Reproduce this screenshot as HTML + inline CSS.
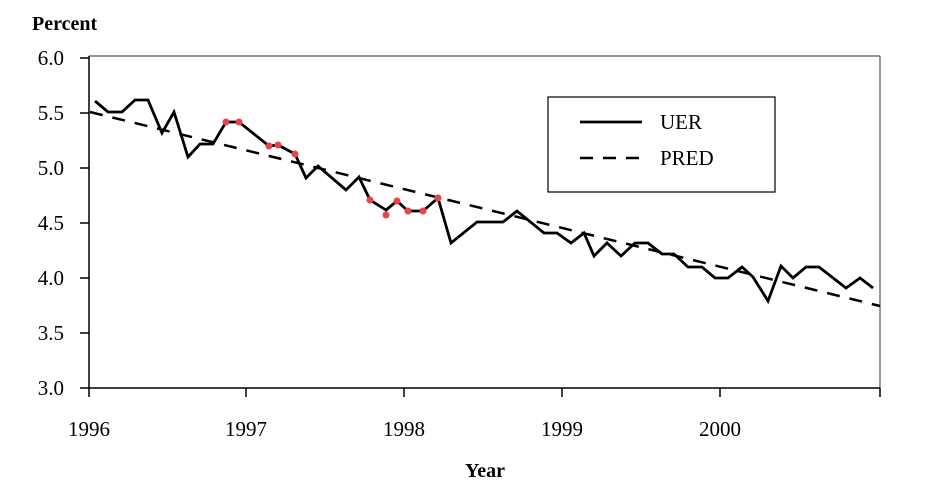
<!DOCTYPE html>
<html><head><meta charset="utf-8"><style>body{margin:0;background:#fff}svg{display:block}</style></head><body>
<svg width="942" height="489" viewBox="0 0 942 489" xmlns="http://www.w3.org/2000/svg" font-family="Liberation Serif, serif">
<text x="32" y="30" font-size="20" font-weight="bold">Percent</text>
<g font-size="21" text-anchor="end">
<text x="64" y="65">6.0</text><text x="64" y="120">5.5</text><text x="64" y="175">5.0</text><text x="64" y="230">4.5</text><text x="64" y="285">4.0</text><text x="64" y="340">3.5</text><text x="64" y="395">3.0</text>
</g>
<g stroke="#555" stroke-width="1.2">
<line x1="89" y1="56" x2="880" y2="56"/><line x1="880" y1="56" x2="880" y2="388"/>
</g>
<g stroke="#000" stroke-width="1.5">
<line x1="89" y1="56" x2="89" y2="388"/><line x1="89" y1="388" x2="880" y2="388"/>
<line x1="80" y1="58" x2="89" y2="58"/><line x1="80" y1="113" x2="89" y2="113"/><line x1="80" y1="168" x2="89" y2="168"/><line x1="80" y1="223" x2="89" y2="223"/><line x1="80" y1="278" x2="89" y2="278"/><line x1="80" y1="333" x2="89" y2="333"/><line x1="80" y1="388" x2="89" y2="388"/>
<line x1="89" y1="388" x2="89" y2="397"/><line x1="246" y1="388" x2="246" y2="397"/><line x1="404" y1="388" x2="404" y2="397"/><line x1="562" y1="388" x2="562" y2="397"/><line x1="720" y1="388" x2="720" y2="397"/><line x1="880" y1="388" x2="880" y2="397"/>
</g>
<g font-size="21" text-anchor="middle">
<text x="89" y="436">1996</text><text x="246" y="436">1997</text><text x="404" y="436">1998</text><text x="562" y="436">1999</text><text x="720" y="436">2000</text>
</g>
<text x="485" y="477" font-size="20" font-weight="bold" text-anchor="middle">Year</text>
<line x1="90" y1="112" x2="880" y2="306" stroke="#000" stroke-width="2.5" stroke-dasharray="13,10"/>
<polyline fill="none" stroke="#000" stroke-width="2.8" stroke-linejoin="miter" points="95,101 108,112 122,112 135,100 148,100 162,133 174,112 188,157 200,144 213,144 226,122 239,122 269,146 278,145 295,154 306,178 318,166 346,190 359,177 370,200 386,210 397,201 408,211 423,211 438,198 451,243 477,222 503,222 517,211 544,233 557,233 571,243 584,233 594,256 607,243 621,256 635,243 648,243 662,254 674,254 688,267 702,267 715,278 728,278 742,267 753,277 768,301 781,266 793,278 806,267 819,267 846,288 860,278 873,288"/>
<g fill="#e8434a">
<circle cx="226" cy="122" r="3.5"/><circle cx="239" cy="122" r="3.5"/><circle cx="269" cy="146" r="3.5"/><circle cx="278" cy="145" r="3.5"/><circle cx="295" cy="154" r="3.5"/><circle cx="370" cy="200" r="3.5"/><circle cx="386" cy="215" r="3.5"/><circle cx="397" cy="201" r="3.5"/><circle cx="408" cy="211" r="3.5"/><circle cx="423" cy="211" r="3.5"/><circle cx="438" cy="198" r="3.5"/>
</g>
<rect x="548" y="97" width="227" height="95" fill="#fff" stroke="#000" stroke-width="1.2"/>
<line x1="580" y1="122" x2="642" y2="122" stroke="#000" stroke-width="2.8"/>
<line x1="580" y1="158" x2="642" y2="158" stroke="#000" stroke-width="2.5" stroke-dasharray="13,10"/>
<text x="660" y="129" font-size="21">UER</text>
<text x="660" y="165" font-size="21">PRED</text>
</svg>
</body></html>
